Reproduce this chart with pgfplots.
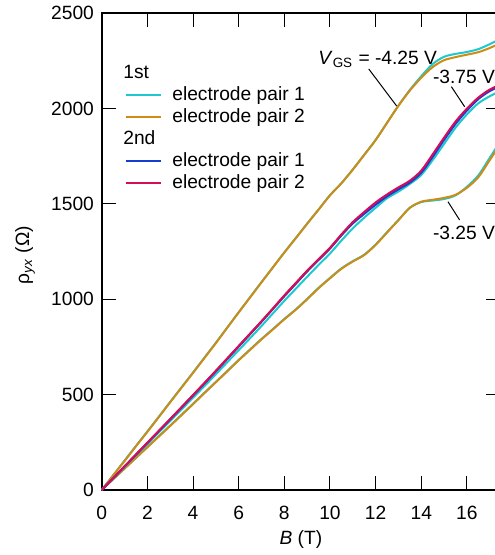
\documentclass[border=0pt]{standalone}
\usepackage{fontspec}
\setmainfont{Liberation Sans}
\usepackage{pgfplots}
\usepackage{pgfplotstable}
\pgfplotsset{compat=1.18}
\definecolor{cyanc}{RGB}{30,200,208}
\definecolor{orangec}{RGB}{206,140,20}
\definecolor{bluec}{RGB}{22,60,210}
\definecolor{redc}{RGB}{212,12,90}

\pgfplotstableread{
B rho
0 0
0.5 77
1 154
1.5 231
2 307
2.5 384
3 462
3.5 539
4 616
4.5 694
5 772
5.5 852
6 932
6.5 1011
7 1090
7.5 1168
8 1246
8.5 1321
9 1397
9.5 1471
10 1546
10.5 1609
11 1681
11.5 1758
12 1836
12.5 1926
13 2016
13.5 2098
14 2170
14.5 2234
15 2272
15.5 2287
16 2297
16.5 2312
17 2338
17.5 2368
}\topA
\pgfplotstableread{
B rho
0 0
0.5 76
1 152
1.5 229
2 305
2.5 382
3 460
3.5 537
4 614
4.5 692
5 770
5.5 851
6 931
6.5 1010
7 1089
7.5 1167
8 1245
8.5 1320
9 1396
9.5 1470
10 1545
10.5 1608
11 1680
11.5 1757
12 1835
12.5 1925
13 2015
13.5 2095
14 2162
14.5 2218
15 2254
15.5 2270
16 2283
16.5 2296
17 2318
17.5 2345
}\topB
\pgfplotstableread{
B rho
0 0
0.5 60
1 120
1.5 181
2 241
2.5 302
3 362
3.5 423
4 484
4.5 545
5 607
5.5 670
6 733
6.5 796
7 860
7.5 926
8 992
8.5 1055
9 1118
9.5 1180
10 1240
10.5 1308
11 1372
11.5 1428
12 1480
12.5 1530
13 1565
13.5 1605
14 1652
14.5 1730
15 1815
15.5 1900
16 1970
16.5 2028
17 2065
17.5 2095
}\midA
\pgfplotstableread{
B rho
0 0
0.5 62
1 123
1.5 185
2 247
2.5 309
3 371
3.5 434
4 497
4.5 560
5 624
5.5 689
6 754
6.5 819
7 884
7.5 951
8 1019
8.5 1084
9 1149
9.5 1209
10 1268
10.5 1337
11 1400
11.5 1452
12 1500
12.5 1541
13 1578
13.5 1614
14 1667
14.5 1752
15 1842
15.5 1927
16 1996
16.5 2055
17 2097
17.5 2125
}\midB
\pgfplotstableread{
B rho
0 0
0.5 61
1 123
1.5 185
2 246
2.5 308
3 370
3.5 432
4 495
4.5 558
5 622
5.5 687
6 752
6.5 817
7 882
7.5 949
8 1016
8.5 1081
9 1146
9.5 1206
10 1266
10.5 1335
11 1398
11.5 1448
12 1496
12.5 1540
13 1577
13.5 1612
14 1664
14.5 1747
15 1836
15.5 1920
16 1990
16.5 2050
17 2092
17.5 2120
}\midC
\pgfplotstableread{
B rho
0 0
0.5 62
1 124
1.5 186
2 248
2.5 310
3 372
3.5 435
4 498
4.5 561
5 625
5.5 690
6 755
6.5 820
7 885
7.5 952
8 1020
8.5 1085
9 1150
9.5 1210
10 1270
10.5 1340
11 1405
11.5 1458
12 1508
12.5 1550
13 1587
13.5 1622
14 1675
14.5 1760
15 1848
15.5 1932
16 2000
16.5 2058
17 2100
17.5 2128
}\midD
\pgfplotstableread{
B rho
0 0
0.5 57
1 113
1.5 169
2 226
2.5 282
3 338
3.5 395
4 452
4.5 510
5 567
5.5 624
6 682
6.5 737
7 792
7.5 844
8 897
8.5 947
9 1002
9.5 1060
10 1112
10.5 1162
11 1200
11.5 1234
12 1287
12.5 1352
13 1416
13.5 1480
14 1510
14.5 1518
15 1526
15.5 1545
16 1590
16.5 1650
17 1742
17.5 1835
}\lowA
\pgfplotstableread{
B rho
0 0
0.5 56
1 112
1.5 168
2 224
2.5 280
3 336
3.5 393
4 450
4.5 508
5 565
5.5 622
6 680
6.5 735
7 790
7.5 842
8 895
8.5 945
9 1000
9.5 1058
10 1110
10.5 1160
11 1198
11.5 1232
12 1285
12.5 1350
13 1415
13.5 1480
14 1512
14.5 1522
15 1532
15.5 1548
16 1585
16.5 1640
17 1730
17.5 1820
}\lowB

\begin{document}
\fontsize{9.6}{11.5}\selectfont
\begin{tikzpicture}
\begin{axis}[
  scale only axis,
  width=199.15pt, height=238.35pt,
  xmin=0, xmax=17.45, ymin=0, ymax=2500,
  xtick={0,2,...,16}, ytick={0,500,...,2500},
  minor tick num=0,
  tick align=inside,
  major tick length=7pt,
  every tick/.style={black, line width=0.5pt},
  axis line style={black, line width=0.8pt},
  /pgf/number format/assume math mode=true,
  /pgf/number format/1000 sep={},
  xticklabel style={inner sep=0pt, yshift=-8pt},
  yticklabel style={inner sep=0pt, xshift=-3.7pt},
  xlabel={\textit{B} (T)},
  ylabel={ρ\textsubscript{\textit{yx}} (Ω)},
  xlabel style={at={(axis description cs:0.5,-0.1049)}, anchor=center, inner sep=0pt},
  ylabel style={at={(axis description cs:-0.1927,0.493)}, anchor=center, inner sep=0pt},
  legend image code/.code={\draw[#1] (0pt,0pt) -- (17.5pt,0pt);},
  legend style={draw=none, fill=none, at={(axis description cs:0.0534,0.8936)},
    anchor=north west, inner sep=0pt, row sep=2pt, column sep=5pt,
    nodes={inner sep=0pt, text height=7pt, text depth=2pt}},
  legend cell align=left,
  every axis plot/.append style={line width=1pt, smooth},
]
\addlegendimage{legend image code/.code={\node[anchor=west, inner sep=0pt] at (-2pt,0pt) {1st};}}
\addlegendentry{}
\addlegendimage{cyanc, line width=1pt}
\addlegendentry{electrode pair 1}
\addlegendimage{orangec, line width=1pt}
\addlegendentry{electrode pair 2}
\addlegendimage{legend image code/.code={\node[anchor=west, inner sep=0pt] at (-2pt,0pt) {2nd};}}
\addlegendentry{}
\addlegendimage{bluec, line width=1pt}
\addlegendentry{electrode pair 1}
\addlegendimage{redc, line width=1pt}
\addlegendentry{electrode pair 2}

\addplot[cyanc, forget plot] table[x=B, y=rho] {\lowA};
\addplot[orangec, forget plot] table[x=B, y=rho] {\lowB};
\addplot[cyanc, forget plot] table[x=B, y=rho] {\topA};
\addplot[orangec, forget plot] table[x=B, y=rho] {\topB};
\addplot[cyanc, forget plot] table[x=B, y=rho] {\midA};
\addplot[orangec, forget plot] table[x=B, y=rho] {\midB};
\addplot[bluec, forget plot] table[x=B, y=rho] {\midC};
\addplot[redc, forget plot] table[x=B, y=rho] {\midD};

\draw[black, line width=0.5pt] (axis cs:11.70,2208) -- (axis cs:12.92,2014);
\draw[black, line width=0.5pt] (axis cs:15.32,2115) -- (axis cs:15.90,2010);
\draw[black, line width=0.5pt] (axis cs:15.17,1512) -- (axis cs:15.68,1416);
\node[anchor=base west, inner sep=0pt] at (axis cs:9.48,2229) {\textit{V}\textsubscript{GS} = -4.25 V};
\node[anchor=base west, inner sep=0pt] at (axis cs:14.5,2134) {-3.75 V};
\node[anchor=base west, inner sep=0pt] at (axis cs:14.5,1316) {-3.25 V};
\end{axis}
\pgfresetboundingbox
\useasboundingbox ([shift={(-50.85pt,-32.5pt)}]current axis.south west) rectangle ([shift={(-3pt,6.65pt)}]current axis.north east);
\end{tikzpicture}
\end{document}
